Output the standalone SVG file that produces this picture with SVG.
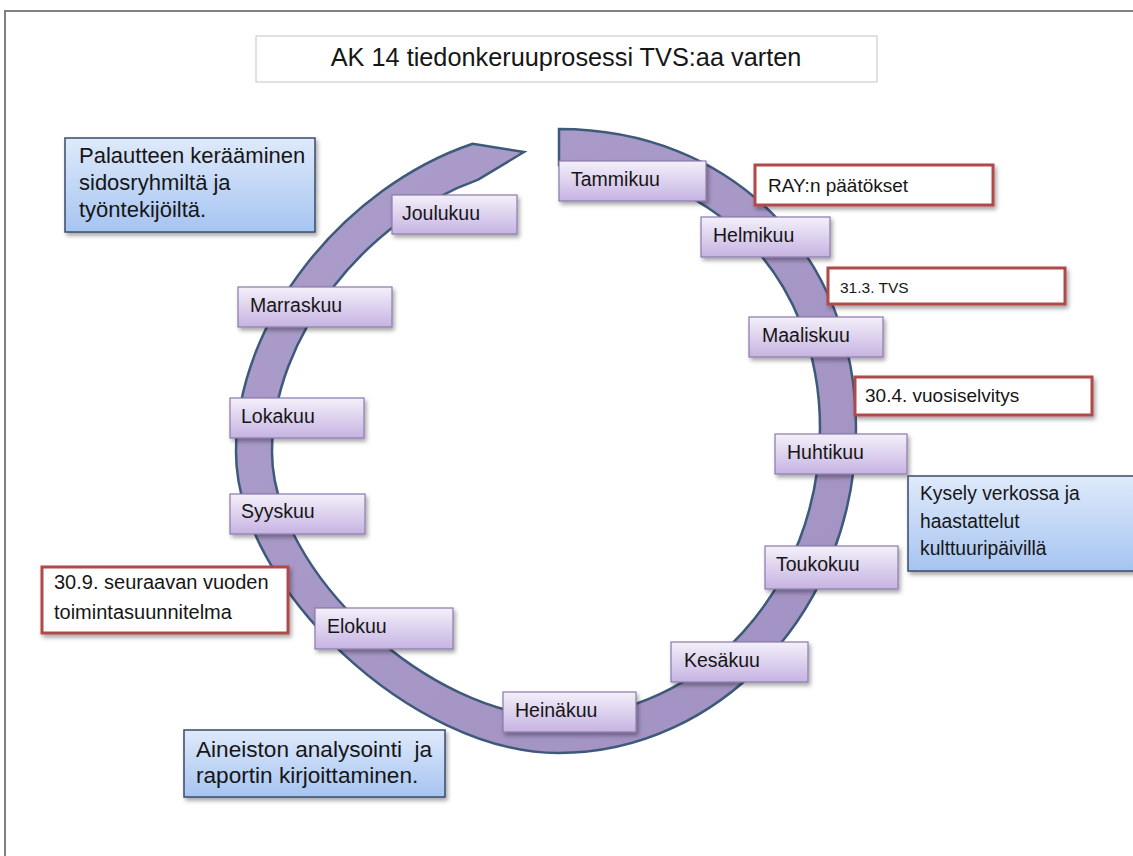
<svg xmlns="http://www.w3.org/2000/svg" width="1133" height="856" viewBox="0 0 1133 856">
<defs>
<linearGradient id="gMonth" x1="0" y1="0" x2="0" y2="1">
<stop offset="0" stop-color="#f4f0fa"/>
<stop offset="1" stop-color="#c6b3e2"/>
</linearGradient>
<linearGradient id="gBlue" x1="0" y1="0" x2="0" y2="1">
<stop offset="0" stop-color="#dfeafb"/>
<stop offset="1" stop-color="#a6c4f1"/>
</linearGradient>
<linearGradient id="gRing" x1="0" y1="0" x2="1" y2="1">
<stop offset="0" stop-color="#ab9dca"/>
<stop offset="1" stop-color="#a292c3"/>
</linearGradient>
<filter id="sh" x="-10%" y="-20%" width="130%" height="160%">
<feDropShadow dx="2" dy="3" stdDeviation="2" flood-color="#000" flood-opacity="0.35"/>
</filter>
<style>
.month rect{fill:url(#gMonth);stroke:#8a7aab;stroke-width:1.2;filter:url(#sh)}
.blue rect{fill:url(#gBlue);stroke:#3b4b69;stroke-width:1.5;filter:url(#sh)}
.red rect{fill:#fff;stroke:#b04848;stroke-width:3;filter:url(#sh)}
text{font-family:"Liberation Sans",Arial,sans-serif;fill:#161616}
.m{font-size:19.5px}
.r{font-size:19px}
</style>
</defs>
<rect width="1133" height="856" fill="#fff"/>
<path d="M5,856 V11 H1133" fill="none" stroke="#808080" stroke-width="2"/>
<g id="title">
<rect x="256" y="36" width="621" height="46" fill="#fff" stroke="#c4c4c4" stroke-width="1"/>
<text x="566" y="66" font-size="25.3" text-anchor="middle">AK 14 tiedonkeruuprosessi TVS:aa varten</text>
</g>
<g id="connectors">
<path id="cycle-arrow" d="M559,129 C731.3,129 856,254.6 856,428 C856,606.8 721.9,753 558,753 C413.1,753 236,587.5 236,452 C236,319.6 344.6,187.1 472.7,143.8 L524,152 L478.2,179.6 C366.2,219.5 272,335.8 272,452 C272,571.3 429.3,717 558,717 C702.1,717 820,587 820,428 C820,275.5 710.4,165 559,165 Z" fill="url(#gRing)" stroke="#3e5a7a" stroke-width="2.5" stroke-linejoin="miter"/>
</g>
<g id="tammikuu" class="month"><rect x="559" y="161" width="147" height="40"/><text class="m" x="571" y="186">Tammikuu</text></g>
<g id="helmikuu" class="month"><rect x="701" y="217" width="129" height="40"/><text class="m" x="713" y="242">Helmikuu</text></g>
<g id="maaliskuu" class="month"><rect x="749" y="317" width="134" height="40"/><text class="m" x="762" y="342">Maaliskuu</text></g>
<g id="huhtikuu" class="month"><rect x="775" y="434" width="132" height="40"/><text class="m" x="787" y="459">Huhtikuu</text></g>
<g id="toukokuu" class="month"><rect x="765" y="546" width="133" height="43"/><text class="m" x="776" y="571">Toukokuu</text></g>
<g id="kesakuu" class="month"><rect x="671" y="642" width="137" height="40"/><text class="m" x="684" y="667">Kesäkuu</text></g>
<g id="heinakuu" class="month"><rect x="503" y="692" width="133" height="40"/><text class="m" x="515" y="717">Heinäkuu</text></g>
<g id="elokuu" class="month"><rect x="315" y="608" width="138" height="41"/><text class="m" x="327" y="633">Elokuu</text></g>
<g id="syyskuu" class="month"><rect x="230" y="494" width="135" height="40"/><text class="m" x="241" y="518">Syyskuu</text></g>
<g id="lokakuu" class="month"><rect x="230" y="398" width="134" height="40"/><text class="m" x="241" y="423">Lokakuu</text></g>
<g id="marraskuu" class="month"><rect x="238" y="287" width="154" height="40"/><text class="m" x="250" y="312">Marraskuu</text></g>
<g id="joulukuu" class="month"><rect x="392" y="195" width="125" height="39"/><text class="m" x="402" y="220">Joulukuu</text></g>
<g id="palaute" class="blue"><rect x="65" y="138" width="250" height="94"/><text font-size="22" x="79"><tspan x="79" y="163">Palautteen kerääminen</tspan><tspan x="79" y="190">sidosryhmiltä ja</tspan><tspan x="79" y="217">työntekijöiltä.</tspan></text></g>
<g id="kysely" class="blue"><rect x="908" y="476" width="230" height="95"/><text font-size="19.3" x="920"><tspan x="920" y="500">Kysely verkossa ja</tspan><tspan x="920" y="528">haastattelut</tspan><tspan x="920" y="555">kulttuuripäivillä</tspan></text></g>
<g id="aineisto" class="blue"><rect x="184" y="730" width="261" height="67"/><text font-size="22.6" x="196" style="white-space:pre"><tspan x="196" y="757">Aineiston analysointi  ja</tspan><tspan x="196" y="783">raportin kirjoittaminen.</tspan></text></g>
<g id="ray" class="red"><rect x="755" y="165" width="238" height="40"/><text class="r" x="768" y="192">RAY:n päätökset</text></g>
<g id="tvs" class="red"><rect x="828" y="268" width="237" height="36"/><text font-size="15.5" x="840" y="293">31.3. TVS</text></g>
<g id="vuosiselvitys" class="red"><rect x="855" y="377" width="237" height="38"/><text class="r" x="865" y="402">30.4. vuosiselvitys</text></g>
<g id="toimintasuunnitelma" class="red"><rect x="42" y="567" width="246" height="66"/><text font-size="20" x="54"><tspan x="54" y="589">30.9. seuraavan vuoden</tspan><tspan x="54" y="619">toimintasuunnitelma</tspan></text></g>
</svg>
